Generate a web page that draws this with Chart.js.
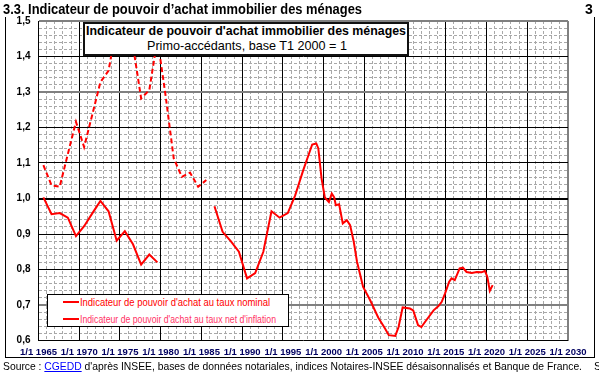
<!DOCTYPE html>
<html>
<head>
<meta charset="utf-8">
<script src="https://cdn.jsdelivr.net/npm/chart.js@4.4.1/dist/chart.umd.min.js"></script>
<style>
body{margin:0;width:599px;height:373px;overflow:hidden;background:#fff;position:relative;font-family:"Liberation Sans",Arial,sans-serif}
#wrap{position:absolute;left:0;top:0;width:599px;height:373px}
.t{position:absolute;white-space:nowrap;line-height:1;transform-origin:0 0}
#frame{position:absolute;left:5px;top:17px;width:590px;height:341px;border:1px solid #000;border-top:none;box-sizing:border-box}
#box{position:absolute;left:83px;top:22px;width:326px;height:34px;border:2px solid #111;background:#fff;box-sizing:border-box}
#legend{position:absolute;left:47px;top:294px;width:242px;height:33px;border:1px solid #000;background:#fff;box-sizing:border-box}
.seg{position:absolute;left:63px;width:16px;height:2px;background:#ff0000}
</style>
</head>
<body>
<div id="frame"></div>
<div id="wrap"><canvas id="myChart"></canvas></div>
<div class="t" id="title" style="left:3px;top:2px;font-size:14px;font-weight:bold">3.3. Indicateur de pouvoir d’achat immobilier des ménages</div>
<div class="t" style="left:585px;top:2px;font-size:14px;font-weight:bold">3</div>
<div id="box"></div>
<div class="t" id="box1" style="left:86px;top:24px;font-size:13px;font-weight:bold">Indicateur de pouvoir d'achat immobilier des ménages</div>
<div class="t" id="box2" style="left:147px;top:39px;font-size:13px">Primo-accédants, base T1 2000 = 1</div>
<div id="legend"></div>
<div class="seg" style="top:301px"></div>
<div class="seg" style="top:318px"></div>
<div class="t" id="leg1" style="left:80px;top:297px;font-size:10.5px;color:#ff0000">Indicateur de pouvoir d'achat au taux nominal</div>
<div class="t" id="leg2" style="left:80px;top:314px;font-size:10.5px;color:#ff3366">Indicateur de pouvoir d'achat au taux net d'inflation</div>
<div class="t" id="source" style="left:3px;top:361px;font-size:11px">Source : <span style="color:#0000ff;text-decoration:underline">CGEDD</span> d'après INSEE, bases de données notariales, indices Notaires-INSEE désaisonnalisés et Banque de France.</div>
<div class="t" style="left:594px;top:361px;font-size:11px">S</div>
<script>
// taux net d'inflation (pointillé)
const netYears = [1965.6, 1966.6, 1967.6, 1968.6, 1969.6, 1970.6, 1971.6, 1972.6, 1973.6, 1974.6,
  1975.6, 1976.6, 1977.6, 1978.6, 1979.6, 1980.6, 1981.6, 1982.6, 1983.6, 1984.6, 1985.6];
const netValues = [1.094, 1.037, 1.033, 1.125, 1.216, 1.145, 1.236, 1.328, 1.36, 1.49,
  1.47, 1.43, 1.282, 1.305, 1.45, 1.29, 1.113, 1.061, 1.073, 1.033, 1.052];

// taux nominal (trait plein), null = interruption
const nomYears = [1965.6, 1966.6, 1967.6, 1968.6, 1969.6, 1970.6, 1971.6, 1972.6, 1973.6, 1974.6,
  1975.6, 1976.6, 1977.6, 1978.6, 1979.6, 1983,
  1986.6, 1987.6, 1988.6, 1989.6, 1990.6, 1991.6, 1992.6, 1993.6, 1994.6, 1995.6,
  1996.5, 1997.5, 1998.6, 1999.1, 1999.35, 1999.75, 2000.15, 2000.65, 2001.0, 2001.3,
  2001.5, 2001.9, 2002.35, 2002.85, 2003.25, 2003.7, 2004.1, 2004.85, 2005.7, 2006.7,
  2007.5, 2008.0, 2008.8, 2009.2, 2009.7, 2010.6, 2011.0, 2011.6, 2012.0, 2012.6,
  2013.5, 2014.1, 2014.5, 2014.9, 2015.4, 2015.7, 2016.1, 2016.7, 2017.1, 2017.55,
  2018.2, 2018.8, 2019.4, 2019.8, 2020.1, 2020.4, 2020.75];
const nomValues = [1.003, 0.956, 0.959, 0.946, 0.894, 0.922, 0.958, 0.993, 0.964, 0.881,
  0.908, 0.871, 0.814, 0.842, 0.820, null,
  0.978, 0.906, 0.880, 0.850, 0.775, 0.790, 0.850, 0.964, 0.946, 0.959,
  1.008, 1.08, 1.152, 1.155, 1.141, 1.056, 1.003, 0.99, 1.014, 1.003,
  0.981, 0.984, 0.93, 0.939, 0.925, 0.878, 0.822, 0.751, 0.714, 0.665,
  0.635, 0.615, 0.613, 0.638, 0.693, 0.690, 0.685, 0.643, 0.638, 0.657,
  0.685, 0.697, 0.709, 0.732, 0.765, 0.775, 0.770, 0.803, 0.805, 0.793,
  0.790, 0.793, 0.792, 0.796, 0.779, 0.740, 0.756];

const fontFamily = '"Liberation Sans", Arial, sans-serif';

const toPoints = (xs, ys) => xs.map((x, i) => ({x: x, y: ys[i]}));

const minorGrid = {color: '#a8a8a8', lineWidth: 1, drawTicks: false};

const yLine = (v) => {
  const r = Math.round(v * 10) / 10;
  if (r === 1.0) return ['#000', 2];
  if (r === 1.5 || r === 1.3 || r === 0.7) return ['#808080', 2];
  return ['#000', 1];
};

const ctx = document.getElementById('myChart');
new Chart(ctx, {
  type: 'line',
  data: {
    datasets: [{
      label: "Indicateur de pouvoir d'achat au taux nominal",
      data: toPoints(nomYears, nomValues),
      borderColor: '#ff0000',
      borderWidth: 2,
      pointRadius: 0,
      tension: 0,
      spanGaps: false,
      xAxisID: 'x',
      yAxisID: 'y'
    }, {
      label: "Indicateur de pouvoir d'achat au taux net d'inflation",
      data: toPoints(netYears, netValues),
      borderColor: '#ff0000',
      borderWidth: 2,
      borderDash: [5, 3],
      pointRadius: 0,
      tension: 0,
      xAxisID: 'x',
      yAxisID: 'y'
    }]
  },
  options: {
    responsive: true,
    maintainAspectRatio: false,
    animation: false,
    layout: {padding: {top: 21, right: 31, left: 0, bottom: 0}},
    plugins: {legend: {display: false}, tooltip: {enabled: false}},
    scales: {
      xMinor: {
        type: 'linear', position: 'bottom', min: 1965, max: 2030, z: -1,
        ticks: {display: false, stepSize: 1},
        grid: minorGrid,
        border: {display: false, dash: [3, 2]},
        afterFit: (s) => { s.height = 0; }
      },
      yMinor: {
        type: 'linear', position: 'left', min: 0.6, max: 1.5, z: -1,
        ticks: {display: false, stepSize: 0.02},
        grid: minorGrid,
        border: {display: false, dash: [3, 2]},
        afterFit: (s) => { s.width = 0; }
      },
      x: {
        type: 'linear', position: 'bottom', min: 1965, max: 2030,
        ticks: {
          stepSize: 5, autoSkip: false, maxRotation: 0, padding: 6,
          color: '#000060', font: {family: fontFamily, size: 9.5, weight: 'bold'},
          callback: (v) => '1/1 ' + v
        },
        grid: {
          drawTicks: false,
          color: (c) => (c.tick && c.tick.value === 2030 ? '#808080' : '#000'),
          lineWidth: (c) => (c.tick && c.tick.value === 2030 ? 2 : 1)
        },
        border: {display: false},
        afterFit: (s) => { s.height = 32.5; }
      },
      y: {
        type: 'linear', position: 'left', min: 0.6, max: 1.5,
        ticks: {
          stepSize: 0.1, padding: 8, color: '#000',
          font: {family: fontFamily, size: 10, weight: 'bold'},
          callback: (v) => v.toFixed(1).replace('.', ',')
        },
        grid: {
          drawTicks: false,
          color: (c) => (c.tick ? yLine(c.tick.value)[0] : '#000'),
          lineWidth: (c) => (c.tick ? yLine(c.tick.value)[1] : 1)
        },
        border: {display: false},
        afterFit: (s) => { s.width = 38.5; }
      }
    }
  }
});

// ajuste la largeur des textes à celle de l'original
const fit = (id, w) => {
  const el = document.getElementById(id);
  const r = el.getBoundingClientRect().width;
  el.style.transform = 'scaleX(' + (w / r) + ')';
};
fit('title', 359);
fit('box1', 320);
fit('box2', 200);
fit('leg1', 190);
fit('leg2', 196);
fit('source', 579);
</script>
</body>
</html>
